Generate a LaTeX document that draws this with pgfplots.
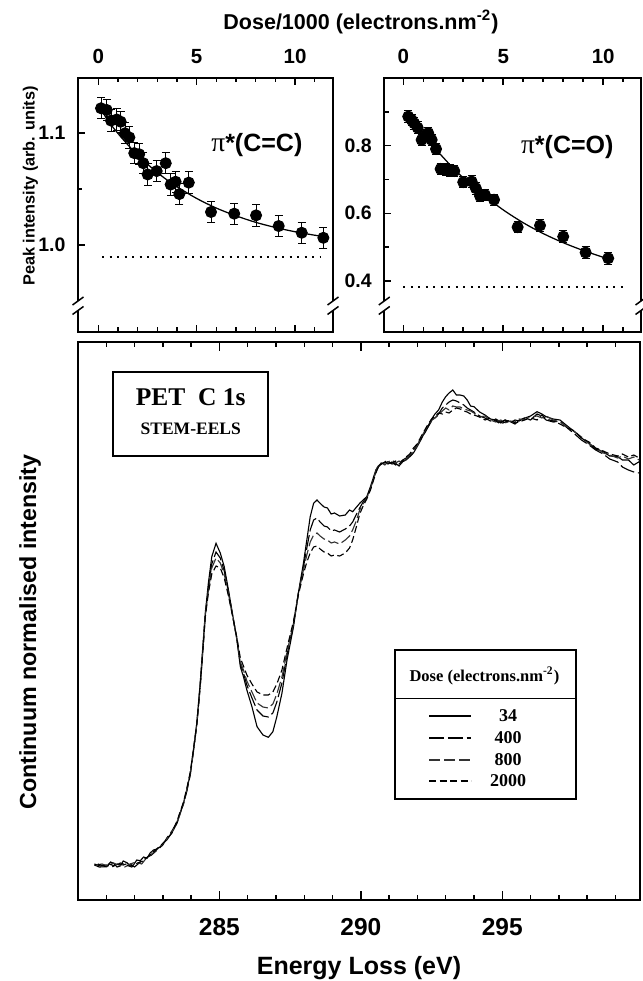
\documentclass[border=0pt]{standalone}
\usepackage{fontspec}
\setmainfont{Liberation Sans}
\newfontfamily\tnr{Liberation Serif}
\usepackage{pgfplots}
\pgfplotsset{compat=1.18}

% line styles for the four doses
\tikzset{
  d34/.style={line width=0.45pt},
  d400/.style={line width=0.45pt, dash pattern=on 6pt off 1.5pt},
  d800/.style={line width=0.45pt, black!80, dash pattern=on 4.5pt off 1.5pt},
  d2000/.style={line width=0.45pt, dash pattern=on 2.8pt off 1.4pt},
}
\pgfplotsset{
  toppanel/.style={
    scale only axis, anchor=north west,
    height=101.6pt,
    axis line style={line width=0.8pt},
    every tick/.style={black, line width=0.6pt},
    major tick length=2.8pt, minor tick length=1.8pt,
    xtick pos=both, ytick pos=left, xticklabel pos=upper,
    xtick={0,5,10}, xticklabels={0,5,10},
    minor xtick={1,2,3,4,6,7,8,9,11},
    xticklabel style={font=\bfseries\fontsize{8.2}{9}\selectfont, yshift=2pt},
    yticklabel style={font=\bfseries\fontsize{7.8}{9}\selectfont, xshift=-1.5pt},
  },
  pts/.style={only marks, mark=*, black, mark size=2.2pt,
    error bars/.cd, y dir=both, y fixed=#1,
    error bar style={line width=0.4pt},
    error mark options={rotate=90, mark size=1.6pt, line width=0.4pt}},
}

\newcommand{\brk}[2]{\begin{scope}[shift={(#1,#2)}]
  \fill[white] (-2.2pt,0.4pt)--(2.2pt,3.6pt)--(2.2pt,-0.2pt)--(-2.2pt,-3.4pt)--cycle;
  \draw[line width=0.6pt] (-2.2pt,0.4pt)--(2.2pt,3.6pt) (-2.2pt,-3.4pt)--(2.2pt,-0.2pt);
\end{scope}}

\begin{document}
\begin{tikzpicture}
\useasboundingbox (0,0) rectangle (256.8pt,-392.4pt);

% ---- pi*(C=C) ----
\begin{axis}[toppanel, at={(31.2pt,-31.2pt)}, width=102pt,
  xmin=-1.03, xmax=11.93, ymin=0.9225, ymax=1.149,
  ytick={1.0,1.1}, yticklabels={1.0,1.1}, minor ytick={1.05}]
\addplot[line width=0.5pt, smooth] coordinates {
  (0.15,1.121) (0.5,1.1107) (1,1.0996) (1.5,1.0895) (2,1.0804) (2.5,1.0722)
  (3,1.0647) (3.5,1.058) (4,1.052) (5,1.0416) (6,1.033) (7,1.0261)
  (8,1.0203) (9,1.0157) (10,1.0119) (11,1.0088) (11.5,1.0075)};
\addplot[line width=0.8pt, dash pattern=on 0.8pt off 2.2pt] coordinates {(0.19,0.9896) (11.27,0.9896)};
\addplot[pts=0.0095] coordinates {
  (0.14,1.122) (0.43,1.1205) (0.65,1.111) (0.94,1.112) (1.14,1.110) (1.36,1.0997)
  (1.58,1.096) (1.83,1.082) (2.08,1.081) (2.29,1.073) (2.51,1.063) (2.97,1.066)
  (3.43,1.073) (3.68,1.054) (3.93,1.0565) (4.12,1.0455) (4.60,1.0557) (5.73,1.0295)
  (6.91,1.028) (8.02,1.0265) (9.17,1.017) (10.34,1.011) (11.44,1.0065)};
\node[anchor=west, font=\fontsize{10}{11}\selectfont] at (axis cs:5.3,1.089)
  {{\tnr\fontsize{11}{12}\selectfont π}\textbf{*(C=C)}};
\end{axis}

% ---- pi*(C=O) ----
\begin{axis}[toppanel, at={(153.7pt,-31.2pt)}, width=102.7pt,
  xmin=-0.95, xmax=11.89, ymin=0.249, ymax=1.0,
  ytick={0.4,0.6,0.8}, yticklabels={0.4,0.6,0.8}, minor ytick={0.5,0.7,0.9}]
\addplot[line width=0.5pt, smooth] coordinates {
  (0.2,0.880) (0.5,0.862) (1,0.830) (1.5,0.797) (2,0.765) (2.5,0.733) (3,0.705)
  (3.5,0.678) (4,0.654) (5,0.610) (6,0.572) (7,0.540) (8,0.513) (9,0.490)
  (10,0.470) (10.4,0.463)};
\addplot[line width=0.8pt, dash pattern=on 0.8pt off 2.2pt] coordinates {(0,0.381) (11.2,0.381)};
\addplot[pts=0.017] coordinates {
  (0.25,0.886) (0.42,0.876) (0.55,0.866) (0.72,0.853) (0.92,0.817) (1.13,0.832)
  (1.25,0.837) (1.42,0.817) (1.64,0.790) (1.87,0.731) (2.14,0.730) (2.34,0.726)
  (2.55,0.725) (3.0,0.692) (3.42,0.694) (3.63,0.674) (3.84,0.651) (4.09,0.654)
  (4.54,0.640) (5.72,0.559) (6.84,0.564) (8.0,0.531) (9.12,0.484) (10.25,0.467)};
\node[anchor=west, font=\fontsize{10}{11}\selectfont] at (axis cs:5.45,0.796)
  {{\tnr\fontsize{11}{12}\selectfont π}\textbf{*(C=O)}};
\end{axis}

% ---- C 1s spectra ----
\begin{axis}[scale only axis, anchor=north west, at={(31.2pt,-136.8pt)},
  width=224.8pt, height=223.2pt,
  xmin=280, xmax=299.87, ymin=0, ymax=5.58,
  axis line style={line width=0.8pt},
  every tick/.style={black, line width=0.6pt},
  major tick length=3.6pt, minor tick length=2pt,
  xtick={285,290,295}, xticklabels={285,290,295},
  minor xtick={281,282,283,284,286,287,288,289,291,292,293,294,296,297,298,299},
  xtick pos=both, xticklabel pos=lower, ytick=\empty,
  tick label style={font=\bfseries\fontsize{9.8}{11}\selectfont},
  xticklabel style={yshift=-4pt}]
\addplot[d34] coordinates {
(280.58,0.35)(280.75,0.33)(281.02,0.333)(281.15,0.38)(281.26,0.367)(281.38,0.33)(281.49,0.34)(281.6,0.39)(281.73,0.373)(281.85,0.34)(281.96,0.35)(282.08,0.40)(282.20,0.393)(282.32,0.43)(282.44,0.417)(282.55,0.47)(282.67,0.50)(282.79,0.51)(282.91,0.533)(283.02,0.57)(283.14,0.60)(283.32,0.673)(283.50,0.767)(283.61,0.867)(283.73,0.967)(283.85,1.10)(283.97,1.267)(284.08,1.50)(284.20,1.767)(284.32,2.167)(284.41,2.52)(284.50,2.87)(284.61,3.17)(284.73,3.433)(284.88,3.567)(285.03,3.47)(285.17,3.333)(285.32,3.10)(285.48,2.833)(285.62,2.60)(285.74,2.333)(285.85,2.233)(285.97,2.10)(286.15,1.933)(286.33,1.733)(286.54,1.65)(286.73,1.627)(286.89,1.683)(287.03,1.833)(287.21,2.067)(287.39,2.40)(287.62,2.733)(287.79,3.067)(287.97,3.367)(288.09,3.60)(288.21,3.833)(288.33,3.967)(288.45,4.00)(288.56,3.967)(288.7,3.93)(288.82,3.92)(288.95,3.86)(289.07,3.87)(289.25,3.84)(289.45,3.85)(289.6,3.90)(289.71,3.883)(289.85,3.93)(289.96,3.967)(290.08,4.00)(290.21,4.033)(290.34,4.133)(290.53,4.30)(290.62,4.34)(290.72,4.367)(290.85,4.37)(290.96,4.383)(291.1,4.36)(291.23,4.367)(291.35,4.34)(291.48,4.383)(291.6,4.40)(291.73,4.433)(291.86,4.47)(291.99,4.533)(292.12,4.60)(292.24,4.667)(292.36,4.73)(292.48,4.80)(292.62,4.86)(292.75,4.90)(292.88,4.98)(293.00,5.033)(293.12,5.07)(293.25,5.10)(293.38,5.05)(293.51,5.05)(293.64,5.04)(293.76,5.00)(293.88,4.94)(294.00,4.933)(294.2,4.88)(294.39,4.85)(294.58,4.81)(294.77,4.80)(294.95,4.77)(295.1,4.80)(295.28,4.783)(295.45,4.76)(295.6,4.80)(295.78,4.817)(296.0,4.84)(296.23,4.883)(296.4,4.86)(296.55,4.833)(296.8,4.81)(297.04,4.80)(297.3,4.74)(297.56,4.683)(297.8,4.62)(298.07,4.567)(298.3,4.51)(298.57,4.483)(298.8,4.44)(299.08,4.433)(299.25,4.40)(299.46,4.40)(299.65,4.35)(299.84,4.383)};
\addplot[d400] coordinates {
(280.58,0.36)(280.8,0.34)(281.0,0.35)(281.2,0.33)(281.4,0.36)(281.6,0.35)(281.8,0.37)(282.0,0.33)(282.2,0.38)(282.4,0.42)(282.6,0.45)(282.8,0.50)(283.0,0.55)(283.14,0.62)(283.32,0.69)(283.50,0.78)(283.61,0.87)(283.73,0.96)(283.85,1.09)(283.97,1.25)(284.08,1.48)(284.20,1.75)(284.32,2.13)(284.41,2.48)(284.50,2.85)(284.61,3.12)(284.73,3.36)(284.88,3.48)(285.03,3.42)(285.17,3.29)(285.32,3.08)(285.48,2.82)(285.62,2.60)(285.74,2.36)(285.85,2.27)(285.97,2.15)(286.15,2.02)(286.33,1.90)(286.54,1.84)(286.73,1.83)(286.89,1.87)(287.03,1.98)(287.21,2.17)(287.39,2.45)(287.62,2.76)(287.79,3.07)(287.97,3.33)(288.09,3.52)(288.21,3.70)(288.33,3.80)(288.45,3.82)(288.56,3.78)(288.7,3.74)(288.82,3.73)(288.95,3.69)(289.07,3.70)(289.25,3.68)(289.45,3.71)(289.6,3.74)(289.71,3.78)(289.85,3.86)(289.96,3.92)(290.08,3.98)(290.21,4.03)(290.34,4.12)(290.53,4.28)(290.62,4.33)(290.72,4.36)(290.85,4.39)(290.96,4.36)(291.1,4.38)(291.23,4.35)(291.35,4.37)(291.48,4.40)(291.6,4.42)(291.73,4.44)(291.86,4.50)(291.99,4.55)(292.12,4.61)(292.24,4.66)(292.36,4.72)(292.48,4.78)(292.62,4.82)(292.75,4.86)(292.88,4.92)(293.00,4.95)(293.12,4.98)(293.25,5.00)(293.38,4.99)(293.51,4.97)(293.64,4.95)(293.76,4.92)(293.88,4.90)(294.00,4.88)(294.2,4.84)(294.39,4.82)(294.58,4.79)(294.77,4.81)(294.95,4.78)(295.1,4.80)(295.28,4.77)(295.45,4.80)(295.6,4.79)(295.78,4.82)(296.0,4.80)(296.23,4.86)(296.4,4.84)(296.55,4.80)(296.8,4.78)(297.04,4.79)(297.3,4.72)(297.56,4.66)(297.8,4.60)(298.07,4.55)(298.3,4.50)(298.57,4.46)(298.8,4.41)(299.08,4.38)(299.25,4.33)(299.46,4.30)(299.65,4.28)(299.84,4.27)};
\addplot[d800] coordinates {
(280.65,0.35)(280.85,0.36)(281.05,0.34)(281.25,0.37)(281.45,0.35)(281.65,0.33)(281.85,0.36)(282.05,0.38)(282.25,0.36)(282.45,0.43)(282.65,0.47)(282.85,0.52)(283.0,0.56)(283.14,0.61)(283.32,0.68)(283.50,0.77)(283.61,0.86)(283.73,0.97)(283.85,1.11)(283.97,1.27)(284.08,1.49)(284.20,1.76)(284.32,2.15)(284.41,2.49)(284.50,2.84)(284.61,3.10)(284.73,3.32)(284.88,3.42)(285.03,3.37)(285.17,3.26)(285.32,3.06)(285.48,2.82)(285.62,2.61)(285.74,2.38)(285.85,2.30)(285.97,2.19)(286.15,2.08)(286.33,1.97)(286.54,1.93)(286.73,1.92)(286.89,1.96)(287.03,2.06)(287.21,2.23)(287.39,2.48)(287.62,2.77)(287.79,3.06)(287.97,3.30)(288.09,3.45)(288.21,3.58)(288.33,3.65)(288.45,3.67)(288.56,3.64)(288.7,3.61)(288.82,3.60)(288.95,3.57)(289.07,3.58)(289.25,3.56)(289.45,3.60)(289.6,3.64)(289.71,3.70)(289.85,3.80)(289.96,3.90)(290.08,3.96)(290.21,4.02)(290.34,4.11)(290.53,4.29)(290.62,4.35)(290.72,4.37)(290.85,4.35)(290.96,4.38)(291.1,4.40)(291.23,4.37)(291.35,4.39)(291.48,4.37)(291.6,4.41)(291.73,4.45)(291.86,4.49)(291.99,4.54)(292.12,4.62)(292.24,4.68)(292.36,4.74)(292.48,4.79)(292.62,4.82)(292.75,4.85)(292.88,4.89)(293.00,4.92)(293.12,4.90)(293.25,4.94)(293.38,4.93)(293.51,4.93)(293.64,4.91)(293.76,4.90)(293.88,4.89)(294.00,4.87)(294.2,4.83)(294.39,4.84)(294.58,4.80)(294.77,4.78)(294.95,4.80)(295.1,4.77)(295.28,4.79)(295.45,4.78)(295.6,4.81)(295.78,4.80)(296.0,4.83)(296.23,4.84)(296.4,4.82)(296.55,4.84)(296.8,4.80)(297.04,4.78)(297.3,4.73)(297.56,4.68)(297.8,4.63)(298.07,4.56)(298.3,4.53)(298.57,4.47)(298.8,4.45)(299.08,4.42)(299.25,4.44)(299.46,4.41)(299.65,4.43)(299.84,4.40)};
\addplot[d2000] coordinates {
(280.7,0.36)(280.9,0.34)(281.1,0.36)(281.3,0.34)(281.5,0.37)(281.7,0.35)(281.9,0.33)(282.1,0.37)(282.3,0.39)(282.5,0.44)(282.7,0.49)(282.9,0.54)(283.05,0.58)(283.2,0.63)(283.32,0.67)(283.50,0.79)(283.61,0.88)(283.73,0.98)(283.85,1.12)(283.97,1.28)(284.08,1.50)(284.20,1.76)(284.32,2.14)(284.41,2.47)(284.50,2.83)(284.61,3.07)(284.73,3.26)(284.88,3.34)(285.03,3.32)(285.17,3.22)(285.32,3.04)(285.48,2.82)(285.62,2.62)(285.74,2.42)(285.85,2.34)(285.97,2.25)(286.15,2.16)(286.33,2.08)(286.54,2.05)(286.73,2.05)(286.89,2.08)(287.03,2.16)(287.21,2.30)(287.39,2.52)(287.62,2.79)(287.79,3.05)(287.97,3.26)(288.09,3.38)(288.21,3.47)(288.33,3.53)(288.45,3.54)(288.56,3.51)(288.7,3.48)(288.82,3.47)(288.95,3.44)(289.07,3.45)(289.25,3.44)(289.45,3.47)(289.6,3.52)(289.71,3.60)(289.85,3.74)(289.96,3.86)(290.08,3.94)(290.21,4.01)(290.34,4.10)(290.53,4.27)(290.62,4.33)(290.72,4.36)(290.85,4.38)(290.96,4.36)(291.1,4.37)(291.23,4.39)(291.35,4.36)(291.48,4.39)(291.6,4.43)(291.73,4.46)(291.86,4.52)(291.99,4.56)(292.12,4.63)(292.24,4.69)(292.36,4.75)(292.48,4.80)(292.62,4.84)(292.75,4.87)(292.88,4.86)(293.00,4.88)(293.12,4.87)(293.25,4.90)(293.38,4.92)(293.51,4.91)(293.64,4.89)(293.76,4.88)(293.88,4.86)(294.00,4.85)(294.2,4.83)(294.39,4.80)(294.58,4.82)(294.77,4.79)(294.95,4.76)(295.1,4.78)(295.28,4.80)(295.45,4.77)(295.6,4.78)(295.78,4.80)(296.0,4.82)(296.23,4.80)(296.4,4.85)(296.55,4.81)(296.8,4.79)(297.04,4.76)(297.3,4.72)(297.56,4.69)(297.8,4.62)(298.07,4.58)(298.3,4.52)(298.57,4.49)(298.8,4.46)(299.08,4.44)(299.25,4.46)(299.46,4.43)(299.65,4.45)(299.84,4.42)};
\end{axis}

% axis breaks
\brk{31.2pt}{-122.4pt}
\brk{133.2pt}{-122.4pt}
\brk{153.7pt}{-122.4pt}
\brk{256.4pt}{-122.4pt}

% labels
\node[font=\bfseries\fontsize{8.6}{10}\selectfont] at (144.4pt,-8.8pt)
  {Dose/1000 (electrons.nm\textsuperscript{-2})};
\node[rotate=90, font=\bfseries\fontsize{6.5}{7.5}\selectfont] at (12.2pt,-74.4pt)
  {Peak intensity (arb. units)};
\node[rotate=90, font=\bfseries\fontsize{9.3}{10}\selectfont] at (12pt,-252.8pt)
  {Continuum normalised intensity};
\node[font=\bfseries\fontsize{10}{11}\selectfont] at (143.6pt,-387.2pt)
  {Energy Loss (eV)};

% PET box
\draw[line width=0.8pt] (45.1pt,-148.9pt) rectangle (107.2pt,-182.3pt);
\node[font=\tnr\bfseries\fontsize{10.2}{11}\selectfont] at (76.3pt,-158.7pt) {PET\ \ C 1s};
\node[font=\tnr\bfseries\fontsize{7}{8}\selectfont] at (76.3pt,-171.6pt) {STEM-EELS};

% dose legend
\draw[line width=0.7pt] (157.9pt,-260pt) rectangle (230.4pt,-319.6pt);
\draw[line width=0.6pt] (157.9pt,-279.3pt) -- (230.4pt,-279.3pt);
\node[font=\tnr\bfseries\fontsize{6.6}{7}\selectfont] at (193.8pt,-270.4pt)
  {Dose (electrons.nm\textsuperscript{-2})};
\draw[d34] (171.6pt,-286.4pt) -- (188.4pt,-286.4pt);
\draw[d400] (171.6pt,-295.2pt) -- (188.4pt,-295.2pt);
\draw[d800] (171.6pt,-304pt) -- (188.4pt,-304pt);
\draw[d2000] (171.6pt,-312.4pt) -- (188.4pt,-312.4pt);
\begin{scope}[every node/.style={font=\tnr\bfseries\fontsize{7.2}{8}\selectfont}]
\node at (203.2pt,-286.4pt) {34};
\node at (203.2pt,-295.2pt) {400};
\node at (203.2pt,-304pt) {800};
\node at (203.2pt,-312.4pt) {2000};
\end{scope}
\end{tikzpicture}
\end{document}
